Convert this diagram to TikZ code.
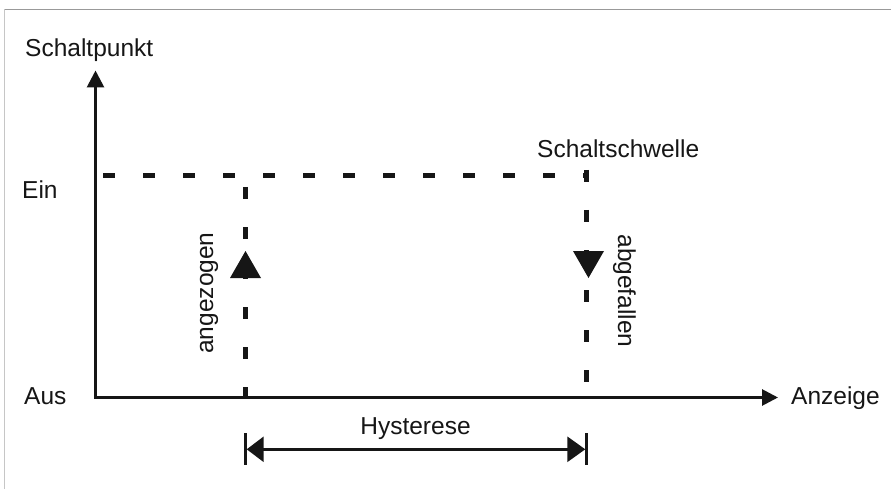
\documentclass[tikz,border=0pt]{standalone}
\usepackage{fontspec}
\setmainfont{Liberation Sans}
\usetikzlibrary{arrows.meta}
\definecolor{ink}{RGB}{22,22,22}
\begin{document}
\begin{tikzpicture}[x=1pt,y=-1pt,
  lbl/.style={inner sep=0pt, font=\fontsize{24.5}{29}\selectfont, text=ink},
  axisline/.style={line width=2.8pt, draw=ink},
  dashline/.style={line width=5pt, draw=ink, dash pattern=on 12pt off 28pt},
  barline/.style={line width=2.6pt, draw=ink}]
\useasboundingbox (0,0) rectangle (891,489);
\fill[white] (0,0) rectangle (891,489);
% frame
\draw[gray!80, line width=1.3pt] (4,9.3) -- (891,9.3);
\draw[gray!45, line width=1.5pt] (4.7,9.3) -- (4.7,489);
% axes
\coordinate (O) at (95.5,397.5);
\coordinate (ytip) at (95.5,70.5);
\coordinate (xtip) at (778,397.5);
\draw[axisline, {Triangle[length=17pt,width=17pt]}-{Triangle[length=16pt,width=16pt]}] (ytip) -- (O) -- (xtip);
% dashed lines
\coordinate (hA) at (103,175.5);
\coordinate (hB) at (589,175.5);
\draw[dashline] (hA) -- (hB);
\coordinate (rT) at (586.5,170);
\coordinate (rB) at (586.5,397.5);
\draw[dashline] (rT) -- (rB);
\coordinate (lT) at (245.5,187);
\coordinate (lB) at (245.5,397.5);
\draw[dashline] (lT) -- (lB);
% direction markers
\fill[ink] (230,278) -- (245.5,251) -- (261,278) -- cycle;
\fill[ink] (573,251) -- (604,251) -- (588.5,278) -- cycle;
% hysteresis dimension
\coordinate (hl) at (245.5,449.3);
\coordinate (hr) at (586.5,449.3);
\draw[barline] ([yshift=16pt]hl) -- ([yshift=-16pt]hl);
\draw[barline] ([yshift=16pt]hr) -- ([yshift=-16pt]hr);
\draw[axisline, {Triangle[length=17pt,width=25pt]}-{Triangle[length=18pt,width=25pt]}] ([xshift=1.2pt]hl) -- ([xshift=-1.2pt]hr);
% labels
\node[lbl, anchor=base west] (schaltpunkt) at (25,57) {Schaltpunkt};
\node[lbl, anchor=base west] (ein) at (22,199) {Ein};
\node[lbl, anchor=base west] (aus) at (24,404) {Aus};
\node[lbl, anchor=base west] (anzeige) at (791,404) {Anzeige};
\node[lbl, anchor=base west] (schwelle) at (537,158) {Schaltschwelle};
\node[lbl, anchor=base] (hyst) at (415.5,434) {Hysterese};
\node[lbl, rotate=90, anchor=base] (angezogen) at (213,293) {angezogen};
\node[lbl, rotate=-90, anchor=base] (abgefallen) at (618,291) {abgefallen};
\end{tikzpicture}
\end{document}
